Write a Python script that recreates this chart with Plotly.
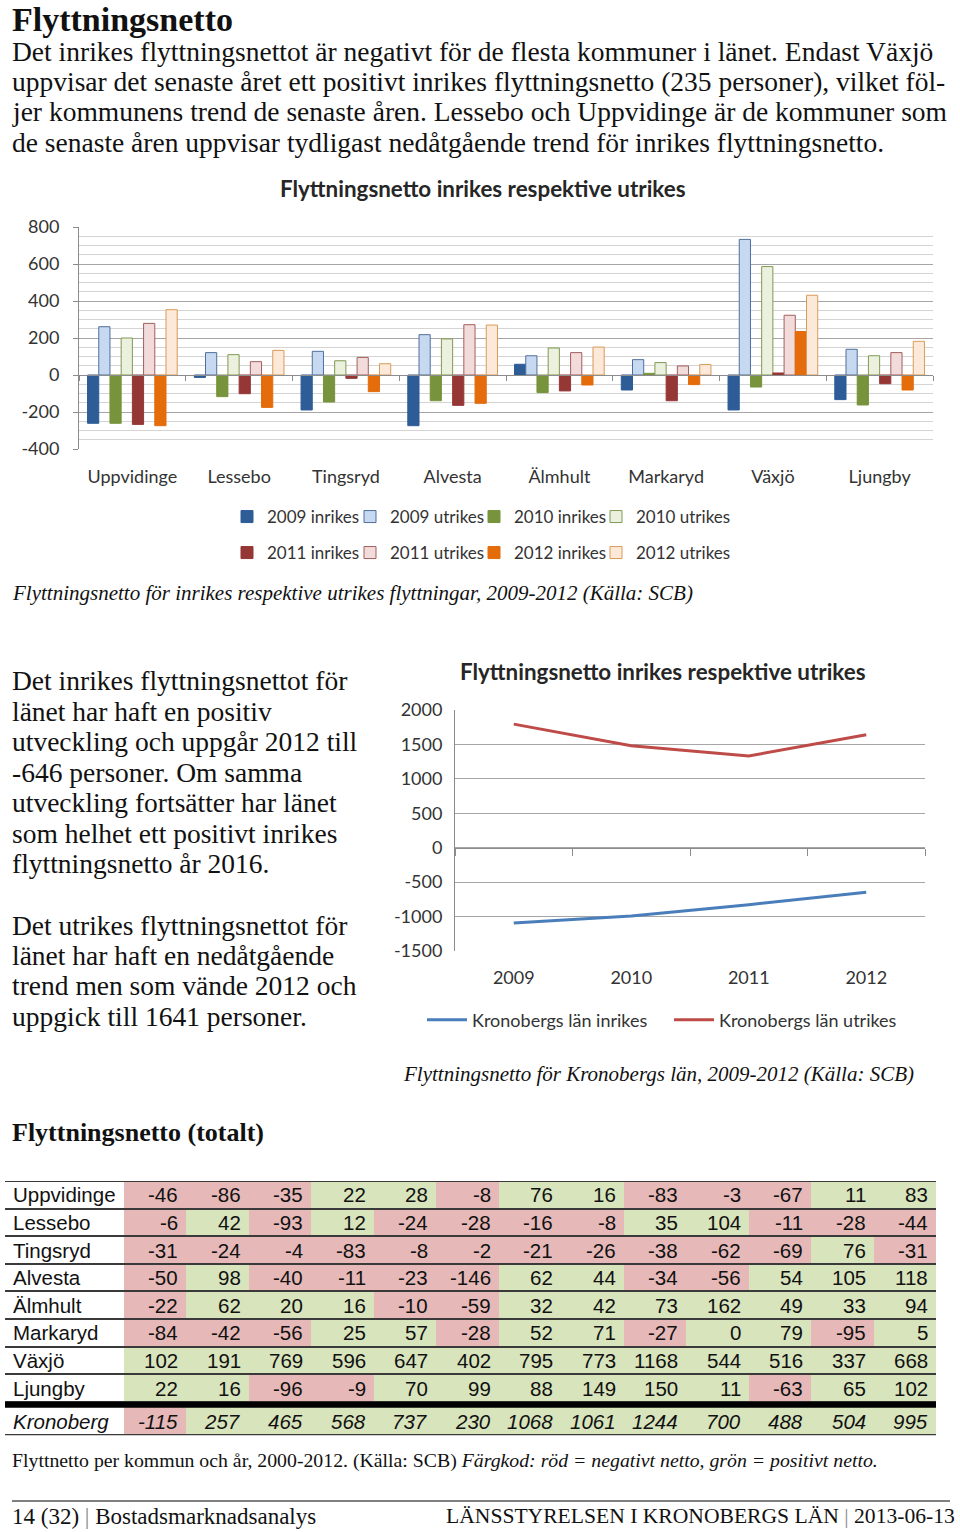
import plotly.graph_objects as go

W, H = 960, 1532

# ---------------- data: bar chart (kommuner, inrikes/utrikes 2009-2012) ----------------
kommuner = ["Uppvidinge", "Lessebo", "Tingsryd", "Alvesta", "Älmhult", "Markaryd", "Växjö", "Ljungby"]
inrikes_2009 = [-261, -13, -189, -274, 58, -81, -189, -133]
utrikes_2009 = [261, 121, 128, 218, 104, 83, 733, 139]
inrikes_2010 = [-261, -117, -146, -139, -95, 9, -65, -162]
utrikes_2010 = [200, 110, 77, 195, 146, 67, 586, 104]
inrikes_2011 = [-267, -101, -18, -164, -86, -139, 11, -47]
utrikes_2011 = [279, 72, 95, 272, 121, 49, 323, 121]
inrikes_2012 = [-274, -175, -90, -153, -54, -52, 235, -81]
utrikes_2012 = [353, 133, 61, 270, 151, 57, 431, 182]
bar_tickvals = [-400, -200, 0, 200, 400, 600, 800]
bar_ticktext = ["-400", "-200", "0", "200", "400", "600", "800"]

# ---------------- data: line chart (Kronobergs län) ----------------
line_years = ["2009", "2010", "2011", "2012"]
lan_inrikes = [-1095, -992, -828, -646]
lan_utrikes = [1795, 1480, 1332, 1641]
line_tickvals = [-1500, -1000, -500, 0, 500, 1000, 1500, 2000]
line_ticktext = ["-1500", "-1000", "-500", "0", "500", "1000", "1500", "2000"]

# ---------------- data: table (flyttnetto totalt 2000-2012) ----------------
table_years = ["2000", "2001", "2002", "2003", "2004", "2005", "2006",
               "2007", "2008", "2009", "2010", "2011", "2012"]
table_rows = ["Uppvidinge", "Lessebo", "Tingsryd", "Alvesta", "Älmhult",
              "Markaryd", "Växjö", "Ljungby", "Kronoberg"]
t_uppvidinge = [-46, -86, -35, 22, 28, -8, 76, 16, -83, -3, -67, 11, 83]
t_lessebo = [-6, 42, -93, 12, -24, -28, -16, -8, 35, 104, -11, -28, -44]
t_tingsryd = [-31, -24, -4, -83, -8, -2, -21, -26, -38, -62, -69, 76, -31]
t_alvesta = [-50, 98, -40, -11, -23, -146, 62, 44, -34, -56, 54, 105, 118]
t_almhult = [-22, 62, 20, 16, -10, -59, 32, 42, 73, 162, 49, 33, 94]
t_markaryd = [-84, -42, -56, 25, 57, -28, 52, 71, -27, 0, 79, -95, 5]
t_vaxjo = [102, 191, 769, 596, 647, 402, 795, 773, 1168, 544, 516, 337, 668]
t_ljungby = [22, 16, -96, -9, 70, 99, 88, 149, 150, 11, -63, 65, 102]
t_kronoberg = [-115, 257, 465, 568, 737, 230, 1068, 1061, 1244, 700, 488, 504, 995]
table_values = [t_uppvidinge, t_lessebo, t_tingsryd, t_alvesta, t_almhult,
                t_markaryd, t_vaxjo, t_ljungby, t_kronoberg]

# ---------------- text ----------------
heading = "Flyttningsnetto"
intro_lines = [
    "Det inrikes flyttningsnettot är negativt för de flesta kommuner i länet. Endast Växjö",
    "uppvisar det senaste året ett positivt inrikes flyttningsnetto (235 personer), vilket föl-",
    "jer kommunens trend de senaste åren. Lessebo och Uppvidinge är de kommuner som",
    "de senaste åren uppvisar tydligast nedåtgående trend för inrikes flyttningsnetto.",
]
side_lines_1 = [
    "Det inrikes flyttningsnettot för",
    "länet har haft en positiv",
    "utveckling och uppgår 2012 till",
    "-646 personer. Om samma",
    "utveckling fortsätter har länet",
    "som helhet ett positivt inrikes",
    "flyttningsnetto år 2016.",
]
side_lines_2 = [
    "Det utrikes flyttningsnettot för",
    "länet har haft en nedåtgående",
    "trend men som vände 2012 och",
    "uppgick till 1641 personer.",
]
chart_title = "Flyttningsnetto inrikes respektive utrikes"
caption_bar = "Flyttningsnetto för inrikes respektive utrikes flyttningar, 2009-2012 (Källa: SCB)"
caption_line = "Flyttningsnetto för Kronobergs län, 2009-2012 (Källa: SCB)"
table_heading = "Flyttningsnetto (totalt)"
caption_table = ("Flyttnetto per kommun och år, 2000-2012. (Källa: SCB) "
                 "<i>Färgkod: röd = negativt netto, grön = positivt netto.</i>")
footer_left = "14 (32) <span style='color:#888'>|</span> Bostadsmarknadsanalys"
footer_right = "LÄNSSTYRELSEN I KRONOBERGS LÄN <span style='color:#888'>|</span> 2013-06-13"

SERIF = "Liberation Serif"
SANS = "Lato"
ARIAL = "Liberation Sans"
CHART_TXT = "#333333"


def py(y):
    return 1 - y / H


def px(x):
    return x / W


fig = go.Figure()

# ---------------- bar chart ----------------
# legend text start positions (px) for the eight bar series: two rows of four
leg_text_x = [260, 383, 507, 629, 260, 383, 507, 629]
leg_row_y = [517, 517, 517, 517, 553, 553, 553, 553]
series = [
    ("2009 inrikes", inrikes_2009, "#2d5c96", "#2d5c96"),
    ("2009 utrikes", utrikes_2009, "#c6d9f1", "#4f6f9c"),
    ("2010 inrikes", inrikes_2010, "#77933c", "#77933c"),
    ("2010 utrikes", utrikes_2010, "#ebf1de", "#7f9a50"),
    ("2011 inrikes", inrikes_2011, "#953735", "#953735"),
    ("2011 utrikes", utrikes_2011, "#f2dcdb", "#a25e5c"),
    ("2012 inrikes", inrikes_2012, "#e46c0a", "#e46c0a"),
    ("2012 utrikes", utrikes_2012, "#fde9d9", "#d99a57"),
]
chart_font = dict(family=SANS, size=18, color=CHART_TXT)
legend_font = dict(family=SANS, size=17, color=CHART_TXT)
legends = {}
for k, (name, vals, fill, edge) in enumerate(series):
    key = "legend" if k == 0 else "legend%d" % (k + 1)
    fig.add_trace(go.Bar(
        x=kommuner, y=vals, name=name, xaxis="x", yaxis="y", legend=key,
        marker=dict(color=fill, line=dict(color=edge, width=1)),
    ))
    legends[key] = dict(orientation="h", x=px(leg_text_x[k] - 33), y=py(leg_row_y[k]),
                        xanchor="left", yanchor="middle", itemwidth=30, font=legend_font,
                        bgcolor="rgba(0,0,0,0)", borderwidth=0)

# ---------------- line chart ----------------
line_leg_text_x = [472, 719]
line_series = [("Kronobergs län inrikes", lan_inrikes, "#4a7ebb"),
               ("Kronobergs län utrikes", lan_utrikes, "#be4b48")]
for k, (name, vals, col) in enumerate(line_series):
    key = "legend%d" % (9 + k)
    fig.add_trace(go.Scatter(x=line_years, y=vals, mode="lines", name=name,
                             line=dict(color=col, width=3), xaxis="x4", yaxis="y4", legend=key))
    legends[key] = dict(orientation="h", x=px(line_leg_text_x[k] - 50), y=py(1020),
                        xanchor="left", yanchor="middle", itemwidth=40, font=chart_font,
                        bgcolor="rgba(0,0,0,0)", borderwidth=0)

# ---------------- table as heatmap ----------------
ROW_H = 27.6
T_TOP = 1181
SEP = 6 / ROW_H                      # thickness of the rule above the total row, in row units
LABEL_W = 119 / 62.46
x_edges = [0] + [LABEL_W + i for i in range(len(table_years) + 1)]
n_rows = len(table_rows)
y_edges = list(range(n_rows)) + [n_rows + SEP]
z = []
for vals in table_values:
    z.append([0] + [(-1 if v < 0 else 1) for v in vals])
RED, GREEN = "#e6b9b8", "#d8e4bc"
fig.add_trace(go.Heatmap(
    x=x_edges, y=y_edges, z=z, xaxis="x3", yaxis="y3",
    zmin=-1.5, zmax=1.5, showscale=False, ygap=2, xgap=0, hoverinfo="skip",
    colorscale=[[0, RED], [1 / 3, RED], [1 / 3, "white"], [2 / 3, "white"], [2 / 3, GREEN], [1, GREEN]],
))
T_BOT = T_TOP + ROW_H * y_edges[-1]

bar_dom = [py(449), py(227)]
bar_zero = bar_dom[0] + (0 - bar_tickvals[0]) / (bar_tickvals[-1] - bar_tickvals[0]) * (bar_dom[1] - bar_dom[0])
line_dom = [py(951), py(710)]
line_zero = line_dom[0] + (0 - line_tickvals[0]) / (line_tickvals[-1] - line_tickvals[0]) * (line_dom[1] - line_dom[0])

axis_gray = "#8c8c8c"

fig.update_layout(
    width=W, height=H, margin=dict(l=0, r=0, t=0, b=0, autoexpand=False),
    paper_bgcolor="white", plot_bgcolor="white",
    barmode="group", bargap=0.16, bargroupgap=0,
    xaxis=dict(domain=[px(79), px(933)], anchor="free", position=bar_zero, type="category",
               showline=True, linecolor=axis_gray, linewidth=1, ticks="outside", ticklen=5,
               tickcolor=axis_gray, tickson="boundaries", showgrid=False, automargin=False,
               ticklabelstandoff=85, tickfont=chart_font, fixedrange=True),
    yaxis=dict(domain=bar_dom, range=[bar_tickvals[0], bar_tickvals[-1]], anchor="x",
               tickvals=bar_tickvals, ticktext=bar_ticktext, showline=True, linecolor=axis_gray,
               ticks="outside", ticklen=5, tickcolor=axis_gray, showgrid=True, gridcolor="#a6a6a6",
               minor=dict(dtick=50, showgrid=True, gridcolor="#d4d4d4", ticks=""), automargin=False,
               zeroline=False, tickfont=chart_font, ticklabelstandoff=10, fixedrange=True),
    xaxis4=dict(domain=[px(455), px(925)], anchor="free", position=line_zero, type="category",
                range=[-0.5, 3.5], showline=True, linecolor=axis_gray, ticks="outside", ticklen=7,
                tickcolor=axis_gray, tickson="boundaries", showgrid=False, automargin=False,
                ticklabelstandoff=114, tickfont=chart_font, fixedrange=True),
    yaxis4=dict(domain=line_dom, range=[line_tickvals[0], line_tickvals[-1]], anchor="x4",
                tickvals=line_tickvals, ticktext=line_ticktext, showline=True, linecolor=axis_gray,
                ticks="", showgrid=True, gridcolor="#a6a6a6", zeroline=False, automargin=False,
                tickfont=chart_font, ticklabelstandoff=8, fixedrange=True),
    xaxis3=dict(domain=[px(5), px(936)], range=[0, x_edges[-1]], visible=False, anchor="y3", fixedrange=True),
    yaxis3=dict(domain=[py(T_BOT), py(T_TOP)], range=[y_edges[-1], 0], visible=False,
                anchor="x3", fixedrange=True),
    showlegend=True,
    **legends,
)

shapes = [
    # dark background shows through the row gaps of the table -> row rules
    dict(type="rect", xref="x3", yref="y3", x0=0, x1=x_edges[-1], y0=0, y1=y_edges[-1],
         fillcolor="#3a3a3a", line=dict(width=0), layer="below"),
    # thick rule above the county total row
    dict(type="line", xref="x3", yref="y3", x0=0, x1=x_edges[-1],
         y0=n_rows - 1 + SEP / 2, y1=n_rows - 1 + SEP / 2, line=dict(color="black", width=6)),
    # footer rule
    dict(type="line", xref="paper", yref="paper", x0=px(12), x1=px(950), y0=py(1501), y1=py(1501),
         line=dict(color="black", width=1)),
]

ann = []


def text(x, y, s, size, family=SERIF, color="#111111", xanchor="left", **kw):
    ann.append(dict(x=px(x), y=py(y), xref="paper", yref="paper", text=s, showarrow=False,
                    xanchor=xanchor, yanchor="middle", font=dict(family=family, size=size, color=color), **kw))


text(10, 20, "<b>" + heading + "</b>", 34)
for i, line in enumerate(intro_lines):
    text(10, 51 + i * 30.4, line, 27.5)
text(483, 188, "<b>" + chart_title + "</b>", 22.4, family=SANS, color="#262626", xanchor="center")
text(10, 593, "<i>" + caption_bar + "</i>", 21)
for i, line in enumerate(side_lines_1):
    text(10, 681 + i * 30.4, line, 27.5)
for i, line in enumerate(side_lines_2):
    text(10, 925 + i * 30.4, line, 27.5)
text(663, 671, "<b>" + chart_title + "</b>", 22.4, family=SANS, color="#262626", xanchor="center")
text(916, 1074, "<i>" + caption_line + "</i>", 21, xanchor="right")
text(10, 1132, "<b>" + table_heading + "</b>", 26)
text(10, 1460, caption_table, 19.8)
text(10, 1516, footer_left, 23)
text(957, 1516, footer_right, 21.6, xanchor="right")

# table texts
cell_font = dict(family=ARIAL, size=20.5, color="#111111")
row_centers = [(y_edges[i] + y_edges[i + 1]) / 2 for i in range(n_rows)]
row_centers[-1] = (n_rows - 1 + SEP + y_edges[-1]) / 2
for j, yr in enumerate(table_years):
    ann.append(dict(x=LABEL_W + j + 1, y=-0.5, xref="x3", yref="y3", text=yr, showarrow=False,
                    xanchor="right", yanchor="middle", xshift=-6, font=cell_font))
for i, (rname, vals) in enumerate(zip(table_rows, table_values)):
    italic = i == n_rows - 1
    lab = "<i>" + rname + "</i>" if italic else rname
    ann.append(dict(x=0, y=row_centers[i], xref="x3", yref="y3", text=lab, showarrow=False,
                    xanchor="left", yanchor="middle", xshift=6, font=cell_font))
    for j, v in enumerate(vals):
        s = str(v)
        if italic:
            s = "<i>" + s + "</i>"
        ann.append(dict(x=LABEL_W + j + 1, y=row_centers[i], xref="x3", yref="y3", text=s, showarrow=False,
                        xanchor="right", yanchor="middle", xshift=-6, font=cell_font))

fig.update_layout(annotations=ann, shapes=shapes)
fig.write_html("out.html", config={"displayModeBar": False},
               post_script="document.body.style.margin='0';document.body.style.padding='0';")
